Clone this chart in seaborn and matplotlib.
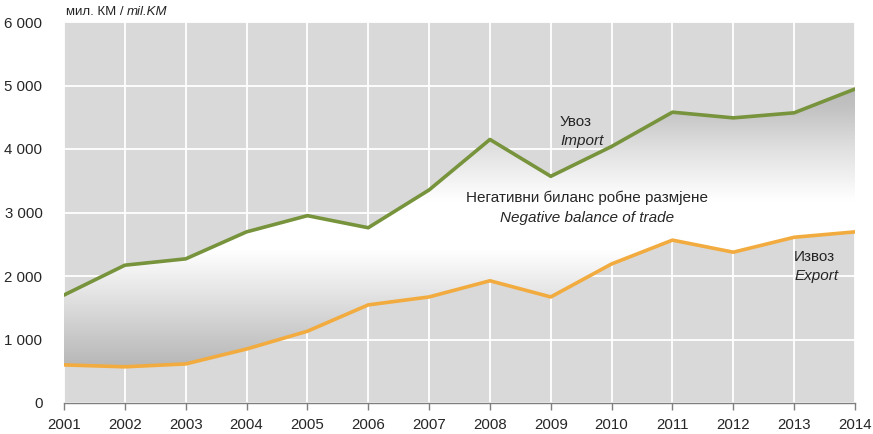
import matplotlib
matplotlib.use('Agg')
import numpy as np
import matplotlib.pyplot as plt
import seaborn as sns

# Trade of goods, million KM
years = list(range(2001, 2015))
imports = [1700, 2170, 2270, 2695, 2950, 2760, 3355, 4150, 3570, 4040, 4580, 4490, 4570, 4945]
exports = [600, 570, 615, 850, 1130, 1545, 1670, 1925, 1670, 2190, 2565, 2375, 2610, 2695]
y_ticks = [0, 1000, 2000, 3000, 4000, 5000, 6000]
y_labels = ['0', '1 000', '2 000', '3 000', '4 000', '5 000', '6 000']

GREEN = '#77933c'
ORANGE = '#f2ab3f'

sns.set_style('darkgrid', {'axes.facecolor': '#d9d9d9', 'grid.color': 'white'})
plt.rcParams['font.family'] = ['Liberation Sans', 'DejaVu Sans']

fig, ax = plt.subplots(figsize=(8.73, 4.34), dpi=100)
fig.subplots_adjust(left=64/873, right=855/873, bottom=31/434, top=412/434)

# gradient fill between the two series (grey - white - grey)
band = ax.fill_between(years, exports, imports, facecolor='none', edgecolor='none')
ys = np.linspace(0, 6000, 400)
shade = np.interp(ys, [0, 600, 1000, 2400, 3200, 4000, 4600, 5000, 6000],
                  [0.71, 0.72, 0.78, 1.0, 1.0, 0.88, 0.77, 0.72, 0.71])
img = np.repeat(shade[:, None], 10, axis=1)
im = ax.imshow(np.dstack([img, img, img]), extent=[2001, 2014, 0, 6000],
               origin='lower', aspect='auto', zorder=1.5)
im.set_clip_path(band.get_paths()[0], transform=ax.transData)

sns.lineplot(x=years, y=imports, color=GREEN, linewidth=2.6, ax=ax, zorder=3)
sns.lineplot(x=years, y=exports, color=ORANGE, linewidth=2.6, ax=ax, zorder=3)

ax.set_xlim(2001, 2014)
ax.set_ylim(0, 6000)
ax.set_xticks(years)
ax.set_xticklabels([str(y) for y in years], fontsize=10.8)
ax.set_yticks(y_ticks)
ax.set_yticklabels(y_labels, fontsize=10.8)
ax.grid(True, color='white', linewidth=1.3)
ax.tick_params(axis='x', bottom=True, direction='out', length=5, width=1, color='#7f7f7f', pad=6)
ax.tick_params(axis='y', left=False, pad=12)
for side in ['top', 'right', 'left']:
    ax.spines[side].set_visible(False)
ax.spines['bottom'].set_visible(True)
ax.spines['bottom'].set_color('#7f7f7f')
ax.spines['bottom'].set_linewidth(1)
ax.set_xlabel('')
ax.set_ylabel('')

# unit label
t1 = ax.text(0.002, 1.01, 'мил. КМ / ', transform=ax.transAxes, fontsize=9.5, va='bottom', ha='left')
ax.annotate('mil.KM', xy=(1, 0), xycoords=t1, fontsize=9.5, style='italic', va='bottom', ha='left')

# annotations
ax.text(2009.15, 4430, 'Увоз', fontsize=11, ha='left', va='center')
ax.text(2009.15, 4130, 'Import', fontsize=11, style='italic', ha='left', va='center')
ax.text(2009.6, 3230, 'Негативни биланс робне размјене', fontsize=11, ha='center', va='center')
ax.text(2009.6, 2910, 'Negative balance of trade', fontsize=11, style='italic', ha='center', va='center')
ax.text(2013.0, 2300, 'Извоз', fontsize=11, ha='left', va='center')
ax.text(2013.0, 2000, 'Export', fontsize=11, style='italic', ha='left', va='center')

fig.savefig('out.png', dpi=100)
